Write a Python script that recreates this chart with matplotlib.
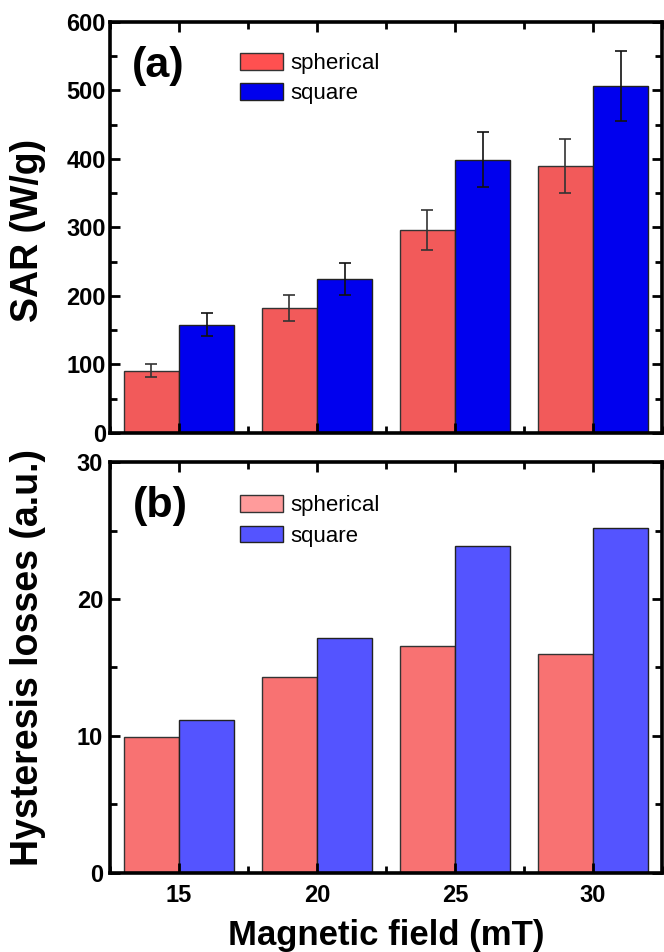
import matplotlib
matplotlib.use("Agg")
import matplotlib.pyplot as plt
from matplotlib.ticker import MultipleLocator
import numpy as np

fields = ["15", "20", "25", "30"]

sar_spherical = [91, 182, 296, 390]
sar_spherical_err = [9, 19, 29, 39]
sar_square = [158, 225, 399, 506]
sar_square_err = [17, 23, 40, 51]

hyst_spherical = [9.95, 14.3, 16.55, 16.0]
hyst_square = [11.2, 17.15, 23.85, 25.2]

plt.rcParams["font.family"] = ["Liberation Sans", "DejaVu Sans"]


def style_axes(ax, tick_size):
    for side in ax.spines.values():
        side.set_linewidth(2.6)
    ax.tick_params(which="both", direction="in", top=True, right=True, width=2)
    ax.tick_params(which="major", length=7, labelsize=tick_size)
    ax.tick_params(which="minor", length=5)
    for lab in ax.get_xticklabels() + ax.get_yticklabels():
        lab.set_fontweight("bold")


def add_legend(ax, y_top):
    leg = ax.legend(loc="upper left", bbox_to_anchor=(0.2355, y_top), frameon=False,
                    fontsize=16, handlelength=1.95, handleheight=0.78,
                    handletextpad=0.32, labelspacing=0.42, borderpad=0, borderaxespad=0)
    return leg


def main():
    x = np.arange(len(fields))
    w = 0.4

    fig = plt.figure(figsize=(6.64, 9.52), dpi=100)
    ax1 = fig.add_axes([0.1657, 0.5452, 0.8313, 0.4317])
    ax2 = fig.add_axes([0.1657, 0.0830, 0.8313, 0.4317])

    # (a) SAR with error bars
    ax1.bar(x - w / 2, sar_spherical, w, color="#F25A5A", edgecolor="#333333",
            linewidth=1, label="spherical")
    ax1.bar(x + w / 2, sar_square, w, color="#0000EE", edgecolor="#222222",
            linewidth=1, label="square")
    ax1.errorbar(x - w / 2, sar_spherical, yerr=sar_spherical_err, fmt="none",
                 ecolor="#333333", elinewidth=1.2, capsize=4.5, capthick=1.2)
    ax1.errorbar(x + w / 2, sar_square, yerr=sar_square_err, fmt="none",
                 ecolor="#111111", elinewidth=1.2, capsize=4.5, capthick=1.2)
    ax1.set_xlim(-0.5, 3.5)
    ax1.set_ylim(0, 600)
    ax1.set_xticks(x)
    ax1.set_xticklabels([])
    ax1.xaxis.set_minor_locator(MultipleLocator(0.5))
    ax1.yaxis.set_major_locator(MultipleLocator(100))
    ax1.yaxis.set_minor_locator(MultipleLocator(50))
    ax1.tick_params(axis="y", pad=3)
    style_axes(ax1, 17)
    leg = add_legend(ax1, 0.925)
    leg.legend_handles[0].set_facecolor("#FF5050")
    ax1.text(0.087, 0.893, "(a)", transform=ax1.transAxes, fontsize=31,
             fontweight="bold", ha="center", va="center")

    # (b) hysteresis losses
    ax2.bar(x - w / 2, hyst_spherical, w, color="#F87272", edgecolor="#333333",
            linewidth=1, label="spherical")
    ax2.bar(x + w / 2, hyst_square, w, color="#5454FF", edgecolor="#222222",
            linewidth=1, label="square")
    ax2.set_xlim(-0.5, 3.5)
    ax2.set_ylim(0, 30)
    ax2.set_xticks(x)
    ax2.set_xticklabels(fields)
    ax2.xaxis.set_minor_locator(MultipleLocator(0.5))
    ax2.yaxis.set_major_locator(MultipleLocator(10))
    ax2.yaxis.set_minor_locator(MultipleLocator(5))
    ax2.tick_params(axis="x", pad=8)
    ax2.tick_params(axis="y", pad=5)
    style_axes(ax2, 17)
    leg2 = add_legend(ax2, 0.919)
    leg2.legend_handles[0].set_facecolor("#FF9B9B")
    ax2.text(0.091, 0.893, "(b)", transform=ax2.transAxes, fontsize=31,
             fontweight="bold", ha="center", va="center")

    fig.text(28 / 664, 1 - 230 / 952, "SAR (W/g)", rotation=90, ha="center",
             va="center", fontsize=27, fontweight="bold")
    fig.text(28 / 664, 1 - 658 / 952, "Hysteresis losses (a.u.)", rotation=90,
             ha="center", va="center", fontsize=27, fontweight="bold")
    fig.text(386 / 664, 1 - 936 / 952, "Magnetic field (mT)", ha="center",
             va="center", fontsize=25, fontweight="bold")

    fig.savefig("out.png", dpi=100)
    plt.close(fig)


if __name__ == "__main__":
    main()
